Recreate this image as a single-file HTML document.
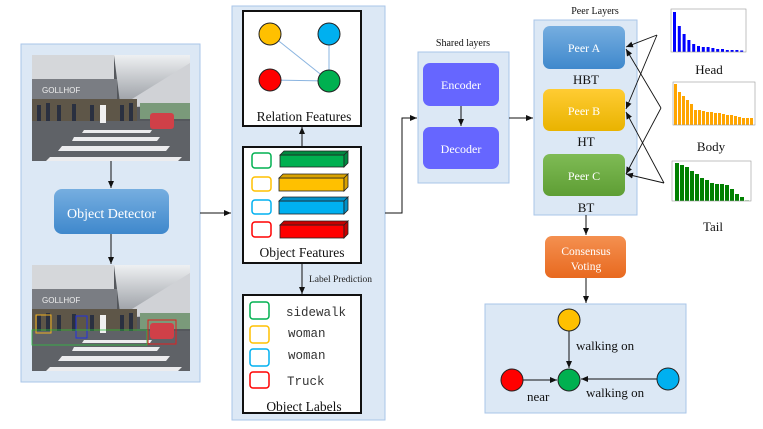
<!DOCTYPE html>
<html><head><meta charset="utf-8"><style>
html,body{margin:0;padding:0;background:#fff;width:763px;height:429px;overflow:hidden}
svg{display:block}
text{font-family:"Liberation Serif",serif}
</style></head><body>
<svg width="763" height="429" viewBox="0 0 763 429" xmlns="http://www.w3.org/2000/svg">
<defs>
<marker id="ar" markerWidth="8" markerHeight="8" refX="7" refY="4" orient="auto" markerUnits="userSpaceOnUse"><path d="M0,1 L7,4 L0,7 z" fill="#111"/></marker>
<linearGradient id="gBlue" x1="0" y1="0" x2="0" y2="1"><stop offset="0" stop-color="#76aee0"/><stop offset="1" stop-color="#3f88cc"/></linearGradient>
<linearGradient id="gYel" x1="0" y1="0" x2="0" y2="1"><stop offset="0" stop-color="#ffcc33"/><stop offset="1" stop-color="#e9b300"/></linearGradient>
<linearGradient id="gGrn" x1="0" y1="0" x2="0" y2="1"><stop offset="0" stop-color="#7fbb55"/><stop offset="1" stop-color="#5e9e34"/></linearGradient>
<linearGradient id="gOr" x1="0" y1="0" x2="0" y2="1"><stop offset="0" stop-color="#f49050"/><stop offset="1" stop-color="#e8691f"/></linearGradient>
<linearGradient id="gSky" x1="0" y1="0" x2="0" y2="1"><stop offset="0" stop-color="#eef0f2"/><stop offset="1" stop-color="#9a9ea4"/></linearGradient>
<g id="photo">
<rect x="0" y="0" width="158" height="106" fill="#55585d"/>
<rect x="0" y="0" width="82" height="24" fill="#d5d7da"/>
<path d="M82 0 L158 0 L158 40 L88 48 Z" fill="url(#gSky)"/>
<path d="M100 44 L158 8 L158 50 L100 52 Z" fill="#d0d2d6"/>
<rect x="0" y="24" width="85" height="20" fill="#7a7d83"/>
<text x="10" y="38" font-size="8" fill="#eee" style="font-family:'Liberation Sans',sans-serif">GOLLHOF</text>
<rect x="0" y="44" width="105" height="24" fill="#5e5648"/>
<g fill="#2a3040"><rect x="5" y="50" width="4" height="16"/><rect x="14" y="48" width="4" height="18"/><rect x="25" y="50" width="4" height="16"/><rect x="40" y="49" width="4" height="17"/><rect x="58" y="50" width="4" height="16"/><rect x="88" y="50" width="4" height="16"/><rect x="97" y="48" width="4" height="18"/></g>
<rect x="108" y="48" width="50" height="16" fill="#7a9a7a"/>
<rect x="0" y="66" width="158" height="40" fill="#5f6267"/>
<rect x="118" y="58" width="24" height="16" rx="3" fill="#d04048"/>
<path d="M18 102 L150 102 L146 106 L14 106Z M30 91 L138 91 L134 96 L26 96Z M42 82 L128 82 L125 86 L40 86Z M52 75 L120 75 L118 78 L50 78Z" fill="#ececee"/>
<rect x="68" y="50" width="6" height="18" fill="#f0f0f0"/>
</g>
</defs>

<rect x="21" y="44" width="179" height="338" fill="#dce8f5" stroke="#a9c6e8" stroke-width="1"/>
<use href="#photo" x="32" y="55"/>
<use href="#photo" x="32" y="265"/>
<rect x="36" y="315" width="15" height="18" fill="none" stroke="#f0b020" stroke-width="1"/>
<rect x="76" y="316" width="11" height="22" fill="none" stroke="#2030e0" stroke-width="1"/>
<rect x="148" y="320" width="28" height="24" fill="none" stroke="#e02020" stroke-width="1"/>
<rect x="32" y="330" width="115" height="15" fill="none" stroke="#30c040" stroke-width="0.8"/>
<line x1="111" y1="161" x2="111" y2="188" stroke="#111" marker-end="url(#ar)"/>
<rect x="54" y="189" width="115" height="45" rx="8" fill="url(#gBlue)"/>
<text x="111.5" y="218" font-size="14" fill="#fff" text-anchor="middle">Object Detector</text>
<line x1="111" y1="234" x2="111" y2="264" stroke="#111" marker-end="url(#ar)"/>
<line x1="200" y1="213" x2="231" y2="213" stroke="#111" marker-end="url(#ar)"/>

<rect x="232" y="6" width="153" height="414" fill="#dce8f5" stroke="#a9c6e8" stroke-width="1"/>
<rect x="243" y="11" width="118" height="115" fill="#fff" stroke="#111" stroke-width="2"/>
<line x1="270" y1="34" x2="329" y2="81" stroke="#8ab4e0"/>
<line x1="329" y1="34" x2="329" y2="81" stroke="#8ab4e0"/>
<line x1="270" y1="80" x2="329" y2="81" stroke="#8ab4e0"/>
<circle cx="270" cy="34" r="11" fill="#ffc000" stroke="#222"/>
<circle cx="329" cy="34" r="11" fill="#00b0f0" stroke="#222"/>
<circle cx="270" cy="80" r="11" fill="#ff0000" stroke="#222"/>
<circle cx="329" cy="81" r="11" fill="#00b050" stroke="#222"/>
<text x="304" y="121" font-size="13.5" text-anchor="middle" fill="#111">Relation Features</text>
<line x1="302" y1="147" x2="302" y2="127" stroke="#111" marker-end="url(#ar)"/>

<rect x="243" y="147" width="118" height="116" fill="#fff" stroke="#111" stroke-width="2"/>
<g stroke-width="1.5" fill="none">
<rect x="252" y="153" width="19" height="15" rx="3" stroke="#00b050"/>
<rect x="252" y="177" width="19" height="14" rx="3" stroke="#ffc000"/>
<rect x="252" y="200" width="19" height="14" rx="3" stroke="#00b0f0"/>
<rect x="252" y="222" width="19" height="15" rx="3" stroke="#ff0000"/>
</g>
<g stroke="#222" stroke-width="0.8">
<rect x="280" y="155" width="64" height="12" fill="#00b050"/><path d="M280 155 L284 151 L348 151 L344 155Z M344 155 L348 151 L348 163 L344 167Z" fill="#008a40"/>
<rect x="279" y="178" width="65" height="13" fill="#ffc000"/><path d="M279 178 L283 174 L348 174 L344 178Z M344 178 L348 174 L348 187 L344 191Z" fill="#d9a200"/>
<rect x="279" y="201" width="65" height="13" fill="#00b0f0"/><path d="M279 201 L283 197 L348 197 L344 201Z M344 201 L348 197 L348 210 L344 214Z" fill="#0090c8"/>
<rect x="280" y="225" width="64" height="13" fill="#ff0000"/><path d="M280 225 L284 221 L348 221 L344 225Z M344 225 L348 221 L348 234 L344 238Z" fill="#c80000"/>
</g>
<text x="302" y="257" font-size="13.5" text-anchor="middle" fill="#111">Object Features</text>
<line x1="302" y1="263" x2="302" y2="294" stroke="#111" marker-end="url(#ar)"/>
<text x="309" y="282" font-size="9.5" fill="#222">Label Prediction</text>

<rect x="243" y="295" width="118" height="118" fill="#fff" stroke="#111" stroke-width="2"/>
<g stroke-width="1.5" fill="none">
<rect x="250" y="302" width="19" height="17" rx="3" stroke="#00b050"/>
<rect x="250" y="326" width="19" height="17" rx="3" stroke="#ffc000"/>
<rect x="250" y="349" width="19" height="17" rx="3" stroke="#00b0f0"/>
<rect x="250" y="372" width="19" height="16" rx="3" stroke="#ff0000"/>
</g>
<g font-size="12.5" fill="#333">
<text x="286" y="316" style="font-family:'Liberation Mono',monospace">sidewalk</text>
<text x="288" y="337" style="font-family:'Liberation Mono',monospace">woman</text>
<text x="288" y="359" style="font-family:'Liberation Mono',monospace">woman</text>
<text x="287" y="385" style="font-family:'Liberation Mono',monospace">Truck</text>
</g>
<text x="304" y="411" font-size="13.5" text-anchor="middle" fill="#111">Object Labels</text>

<polyline points="385,213 402,213 402,118 417,118" fill="none" stroke="#111" marker-end="url(#ar)"/>
<text x="463" y="46" font-size="10" text-anchor="middle" fill="#111">Shared layers</text>
<rect x="418" y="52" width="91" height="131" fill="#dce8f5" stroke="#a9c6e8"/>
<rect x="423" y="63" width="76" height="43" rx="7" fill="#6666ff"/>
<text x="461" y="89" font-size="12" text-anchor="middle" fill="#fff">Encoder</text>
<line x1="461" y1="106" x2="461" y2="126" stroke="#111" marker-end="url(#ar)"/>
<rect x="423" y="127" width="76" height="42" rx="7" fill="#6666ff"/>
<text x="461" y="153" font-size="12" text-anchor="middle" fill="#fff">Decoder</text>
<line x1="509" y1="118" x2="533" y2="118" stroke="#111" marker-end="url(#ar)"/>

<text x="595" y="14" font-size="10" text-anchor="middle" fill="#111">Peer Layers</text>
<rect x="534" y="20" width="103" height="195" fill="#dce8f5" stroke="#a9c6e8"/>
<rect x="543" y="26" width="82" height="43" rx="7" fill="url(#gBlue)"/>
<text x="584" y="52" font-size="12" text-anchor="middle" fill="#fff">Peer A</text>
<text x="586" y="84" font-size="13" text-anchor="middle" fill="#111">HBT</text>
<rect x="543" y="89" width="82" height="42" rx="7" fill="url(#gYel)"/>
<text x="584" y="115" font-size="12" text-anchor="middle" fill="#fff">Peer B</text>
<text x="586" y="146" font-size="13" text-anchor="middle" fill="#111">HT</text>
<rect x="543" y="154" width="82" height="42" rx="7" fill="url(#gGrn)"/>
<text x="584" y="180" font-size="12" text-anchor="middle" fill="#fff">Peer C</text>
<text x="586" y="212" font-size="13" text-anchor="middle" fill="#111">BT</text>

<g stroke="#111" stroke-width="0.9" fill="none">
<line x1="657" y1="35" x2="626" y2="47" marker-end="url(#ar)"/>
<line x1="657" y1="35" x2="626" y2="109" marker-end="url(#ar)"/>
<line x1="661" y1="108" x2="626" y2="49" marker-end="url(#ar)"/>
<line x1="661" y1="108" x2="626" y2="174" marker-end="url(#ar)"/>
<line x1="664" y1="183" x2="626" y2="112" marker-end="url(#ar)"/>
<line x1="664" y1="183" x2="626" y2="174" marker-end="url(#ar)"/>
</g>

<g id="charts"></g>
<rect x="671" y="9" width="75" height="43" fill="none" stroke="#999" stroke-width="0.6"/>
<rect x="673" y="82" width="82" height="43" fill="none" stroke="#999" stroke-width="0.6"/>
<rect x="672" y="161" width="79" height="40" fill="none" stroke="#999" stroke-width="0.6"/>
<text x="709" y="74" font-size="13" text-anchor="middle" fill="#111">Head</text>
<text x="711" y="151" font-size="13" text-anchor="middle" fill="#111">Body</text>
<text x="713" y="231" font-size="13" text-anchor="middle" fill="#111">Tail</text>

<line x1="586" y1="215" x2="586" y2="235" stroke="#111" marker-end="url(#ar)"/>
<rect x="545" y="236" width="81" height="42" rx="7" fill="url(#gOr)"/>
<text x="586" y="255" font-size="11.5" text-anchor="middle" fill="#fff">Consensus</text>
<text x="586" y="270" font-size="11.5" text-anchor="middle" fill="#fff">Voting</text>
<line x1="586" y1="278" x2="586" y2="303" stroke="#111" marker-end="url(#ar)"/>

<rect x="485" y="304" width="201" height="109" fill="#dce8f5" stroke="#a9c6e8"/>
<line x1="569" y1="331" x2="569" y2="368" stroke="#111" marker-end="url(#ar)"/>
<line x1="523" y1="380" x2="557" y2="380" stroke="#111" marker-end="url(#ar)"/>
<line x1="657" y1="379" x2="581" y2="379" stroke="#111" marker-end="url(#ar)"/>
<circle cx="569" cy="320" r="11" fill="#ffc000" stroke="#222"/>
<circle cx="569" cy="380" r="11" fill="#00b050" stroke="#222"/>
<circle cx="512" cy="380" r="11" fill="#ff0000" stroke="#222"/>
<circle cx="668" cy="379" r="11" fill="#00b0f0" stroke="#222"/>
<text x="576" y="350" font-size="13" fill="#111">walking on</text>
<text x="527" y="401" font-size="13" fill="#111">near</text>
<text x="586" y="397" font-size="13" fill="#111">walking on</text>
</svg>
<script>
(function(){
var g=document.getElementById('charts'),ns='http://www.w3.org/2000/svg';
function bars(x0,step,w,base,hs,col){hs.forEach(function(h,i){var r=document.createElementNS(ns,'rect');r.setAttribute('x',x0+i*step);r.setAttribute('y',base-h);r.setAttribute('width',w);r.setAttribute('height',h);r.setAttribute('fill',col);g.appendChild(r);});}
bars(673,4.8,3,52,[40,26,18,12,8,6,5,5,4,3,3,2,2,2,1.5],'#0000ff');
bars(674,4,3,125,[41,33,29,25,21,15,15,14,13,13,12,12,11,10,10,9,8,7,7,7],'#ffa500');
bars(675,5,4,201,[38,36,34,30,27,23,21,18,17,17,16,12,7,4,0.5],'#008000');
})();
</script>
</body></html>
